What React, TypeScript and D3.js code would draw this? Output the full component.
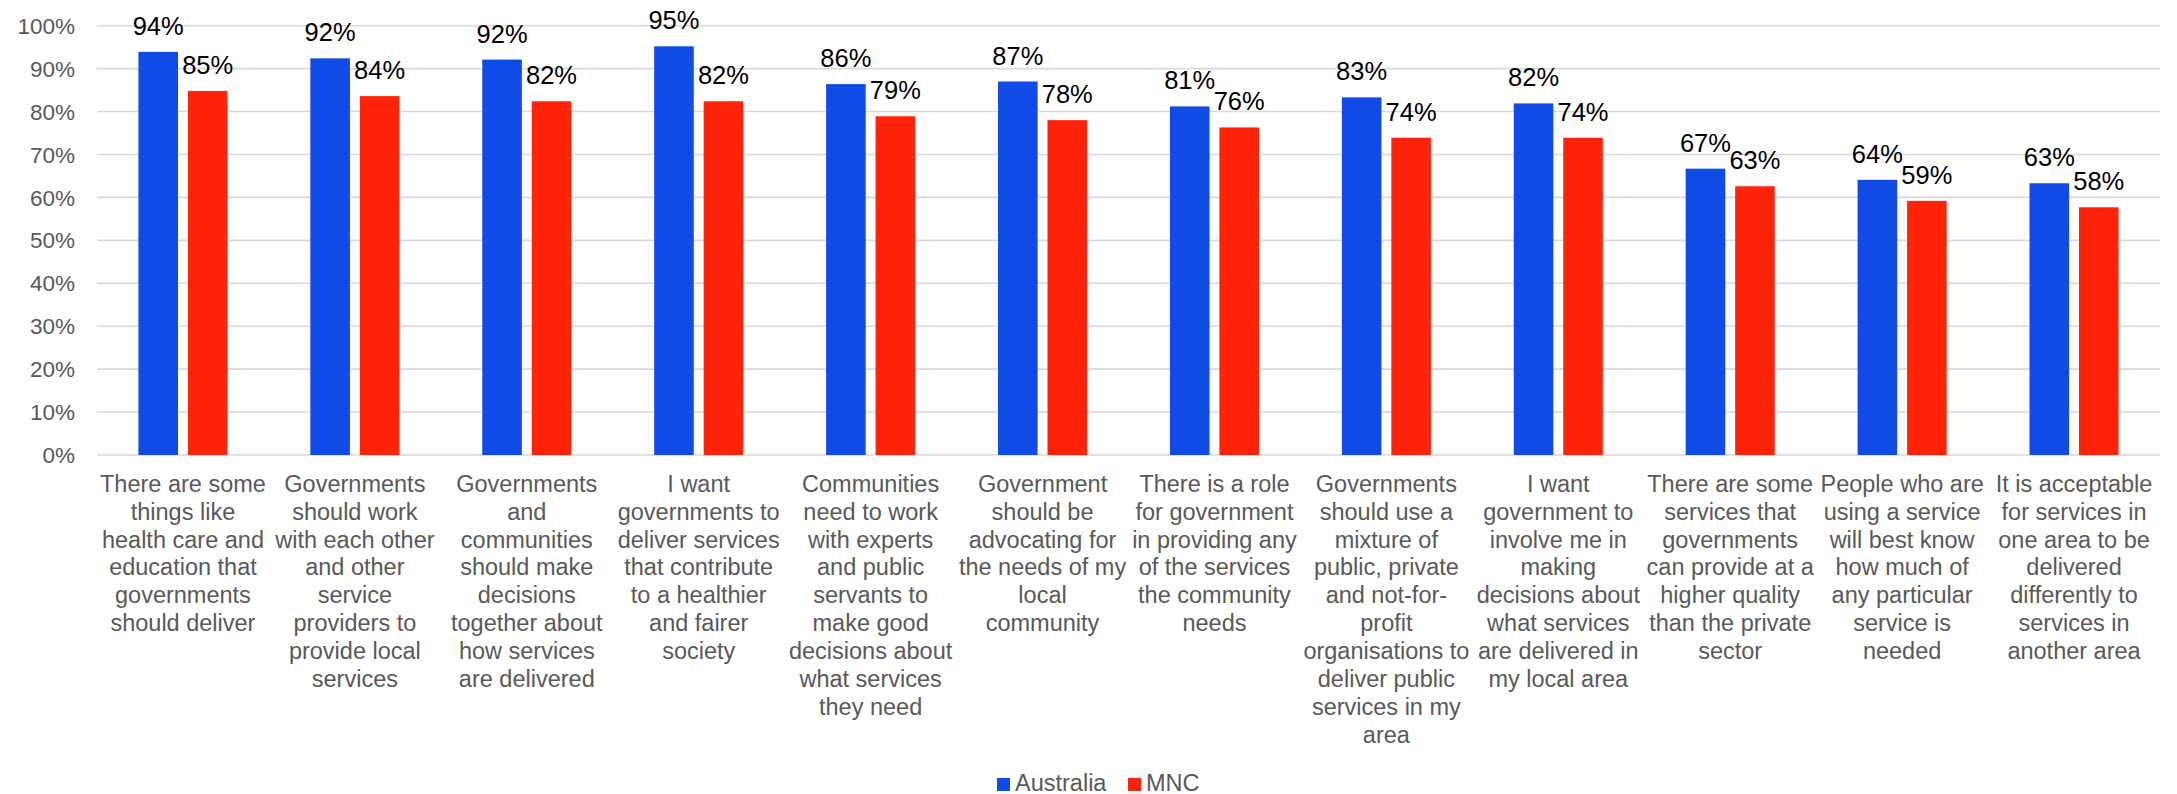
import React from "react";
import * as d3 from "d3";

const categories: string[][] = [
  ["There are some", "things like", "health care and", "education that", "governments", "should deliver"],
  ["Governments", "should work", "with each other", "and other", "service", "providers to", "provide local", "services"],
  ["Governments", "and", "communities", "should make", "decisions", "together about", "how services", "are delivered"],
  ["I want", "governments to", "deliver services", "that contribute", "to a healthier", "and fairer", "society"],
  ["Communities", "need to work", "with experts", "and public", "servants to", "make good", "decisions about", "what services", "they need"],
  ["Government", "should be", "advocating for", "the needs of my", "local", "community"],
  ["There is a role", "for government", "in providing any", "of the services", "the community", "needs"],
  ["Governments", "should use a", "mixture of", "public, private", "and not-for-", "profit", "organisations to", "deliver public", "services in my", "area"],
  ["I want", "government to", "involve me in", "making", "decisions about", "what services", "are delivered in", "my local area"],
  ["There are some", "services that", "governments", "can provide at a", "higher quality", "than the private", "sector"],
  ["People who are", "using a service", "will best know", "how much of", "any particular", "service is", "needed"],
  ["It is acceptable", "for services in", "one area to be", "delivered", "differently to", "services in", "another area"],
];

const seriesNames = ["Australia", "MNC"];
const australia = [93.9, 92.4, 92.1, 95.2, 86.4, 87.0, 81.2, 83.3, 81.9, 66.7, 64.1, 63.3];
const mnc = [84.8, 83.6, 82.4, 82.4, 78.9, 78.0, 76.3, 73.9, 73.9, 62.6, 59.2, 57.7];
const yTicks = [0, 10, 20, 30, 40, 50, 60, 70, 80, 90, 100];

const COLORS = ["#114BE6", "#FF2309"];
const FONT = "'Liberation Sans', Arial, sans-serif";

export default function App() {
  const W = 2177, H = 794;
  const left = 97, right = 2160, top = 25.7, bottom = 455;
  const idx = categories.map((_, i) => i);
  const x0 = d3.scaleBand<number>().domain(idx).range([left, right]).paddingInner(0).paddingOuter(0);
  const bw = x0.bandwidth();
  const x1 = d3.scaleBand<string>().domain(seriesNames).range([bw / 2 - 0.259 * bw, bw / 2 + 0.259 * bw]).paddingInner(0.2);
  const y = d3.scaleLinear().domain([0, 100]).range([bottom, top]);
  const fmt = d3.format(".0%");
  const series = [australia, mnc];
  const lineH = 27.9;

  return (
    <svg width={W} height={H} style={{ position: "absolute", left: 0, top: 0, background: "#fff" }} fontFamily={FONT}>
      {yTicks.map((t) => (
        <g key={t}>
          <line x1={left} x2={right} y1={y(t)} y2={y(t)} stroke="#D9D9D9" strokeWidth={1.6} />
          <text x={75} y={y(t)} dy="0.36em" textAnchor="end" fontSize={22.5} fill="#595959">
            {t}%
          </text>
        </g>
      ))}
      {series.map((vals, s) =>
        vals.map((v, i) => {
          const bx = (x0(i) as number) + (x1(seriesNames[s]) as number);
          return (
            <g key={`${s}-${i}`}>
              <rect x={bx} y={y(v)} width={x1.bandwidth()} height={y(0) - y(v)} fill={COLORS[s]} />
              <text x={bx + x1.bandwidth() / 2} y={y(v) - 17} textAnchor="middle" fontSize={25.5} fill="#000">
                {fmt(Math.round(v) / 100)}
              </text>
            </g>
          );
        })
      )}
      {categories.map((lines, i) => (
        <text key={i} textAnchor="middle" fontSize={23.5} fill="#595959">
          {lines.map((ln, j) => (
            <tspan key={j} x={(x0(i) as number) + bw / 2} y={491.7 + j * lineH}>
              {ln}
            </tspan>
          ))}
        </text>
      ))}
      <g>
        <rect x={997} y={778} width={13} height={13} fill={COLORS[0]} />
        <text x={1015} y={791} fontSize={23.5} fill="#595959">{seriesNames[0]}</text>
        <rect x={1128} y={778} width={13} height={13} fill={COLORS[1]} />
        <text x={1146} y={791} fontSize={23.5} fill="#595959">{seriesNames[1]}</text>
      </g>
    </svg>
  );
}
